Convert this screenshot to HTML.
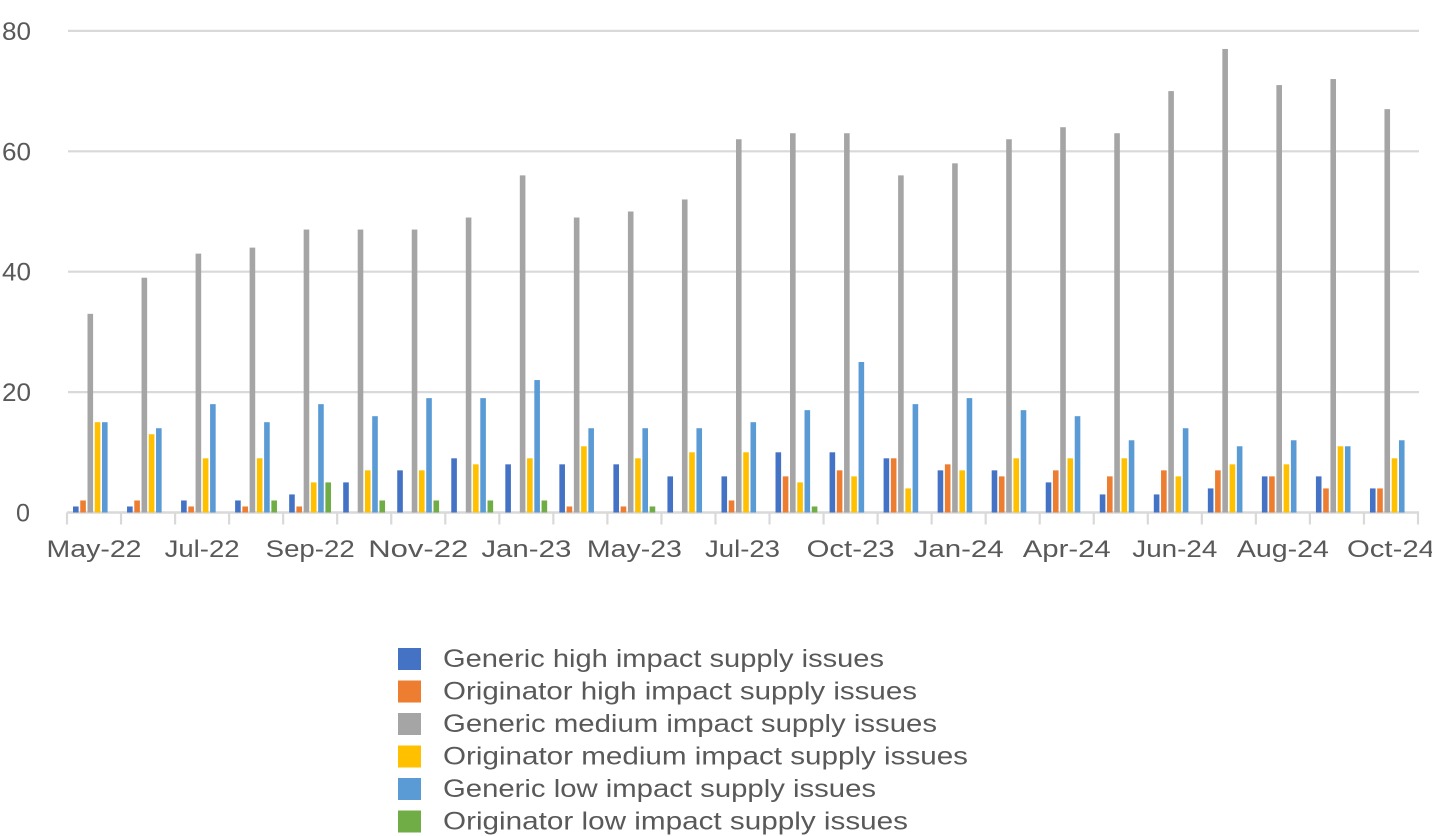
<!DOCTYPE html>
<html><head><meta charset="utf-8"><style>
html,body{margin:0;padding:0;background:#fff;}
svg{display:block;font-family:"Liberation Sans",sans-serif;}
</style></head><body>
<svg id="c" width="1432" height="836" xmlns="http://www.w3.org/2000/svg"></svg>
<script>
var s=document.getElementById('c'),h='';
var y0=512.5,k=6.02,x0=67,gw=54.04;
for(var v=0;v<=80;v+=20){var y=y0-v*k;
 if(v>0)h+='<line x1="68" x2="1419" y1="'+y+'" y2="'+y+'" stroke="#d9d9d9" stroke-width="2.2"/>';
 h+='<text x="'+(v==0?30:31)+'" y="'+(y+9)+'" font-size="25" fill="#595959" text-anchor="end" textLength="'+(v==0?14:29)+'" lengthAdjust="spacingAndGlyphs">'+v+'</text>';}
h+='<line x1="67" x2="1419" y1="'+y0+'" y2="'+y0+'" stroke="#d9d9d9" stroke-width="2.5"/>';
for(var i=0;i<=25;i++){var x=x0+i*gw;h+='<line x1="'+x+'" x2="'+x+'" y1="'+y0+'" y2="'+(y0+12)+'" stroke="#d9d9d9" stroke-width="2.2"/>';}
var labs=['May-22','Jul-22','Sep-22','Nov-22','Jan-23','May-23','Jul-23','Oct-23','Jan-24','Apr-24','Jun-24','Aug-24','Oct-24'];
var lw=[95,75,89,100,90,95,75,88,90,88,85,92,88];
for(var i=0;i<13;i++){h+='<text x="'+(x0+(2*i+0.5)*gw)+'" y="557" font-size="24" fill="#595959" text-anchor="middle" textLength="'+lw[i]+'" lengthAdjust="spacingAndGlyphs">'+labs[i]+'</text>';}
var cols=['#4472c4','#ed7d31','#a5a5a5','#ffc000','#5b9bd5','#70ad47'];
var d=[[1,1,2,2,3,5,7,9,8,8,8,6,6,10,10,9,7,7,5,3,3,4,6,6,4],
[2,2,1,1,1,0,0,0,0,1,1,0,2,6,7,9,8,6,7,6,7,7,6,4,4],
[33,39,43,44,47,47,47,49,56,49,50,52,62,63,63,56,58,62,64,63,70,77,71,72,67],
[15,13,9,9,5,7,7,8,9,11,9,10,10,5,6,4,7,9,9,9,6,8,8,11,9],
[15,14,18,15,18,16,19,19,22,14,14,14,15,17,25,18,19,17,16,12,14,11,12,11,12],
[0,0,0,2,5,2,2,2,2,0,1,0,0,1,0,0,0,0,0,0,0,0,0,0,0]];
for(var sr=0;sr<6;sr++)for(var g=0;g<25;g++){var v=d[sr][g];if(!v)continue;
 var x=x0+g*gw+6+sr*7.25,hh=v*k;
 h+='<rect x="'+x.toFixed(2)+'" y="'+(y0-hh).toFixed(2)+'" width="5.6" height="'+hh.toFixed(2)+'" fill="'+cols[sr]+'"/>';}
var names=['Generic high impact supply issues','Originator high impact supply issues','Generic medium impact supply issues','Originator medium impact supply issues','Generic low impact supply issues','Originator low impact supply issues'];
var nw=[441,474,494,525,433,465];
for(var i=0;i<6;i++){var y=648+i*32.5;
 h+='<rect x="398" y="'+y+'" width="23" height="22" fill="'+cols[i]+'"/>';
 h+='<text x="443" y="'+(y+19)+'" font-size="25" fill="#595959" textLength="'+nw[i]+'" lengthAdjust="spacingAndGlyphs">'+names[i]+'</text>';}
s.innerHTML=h;
</script>
</body></html>
